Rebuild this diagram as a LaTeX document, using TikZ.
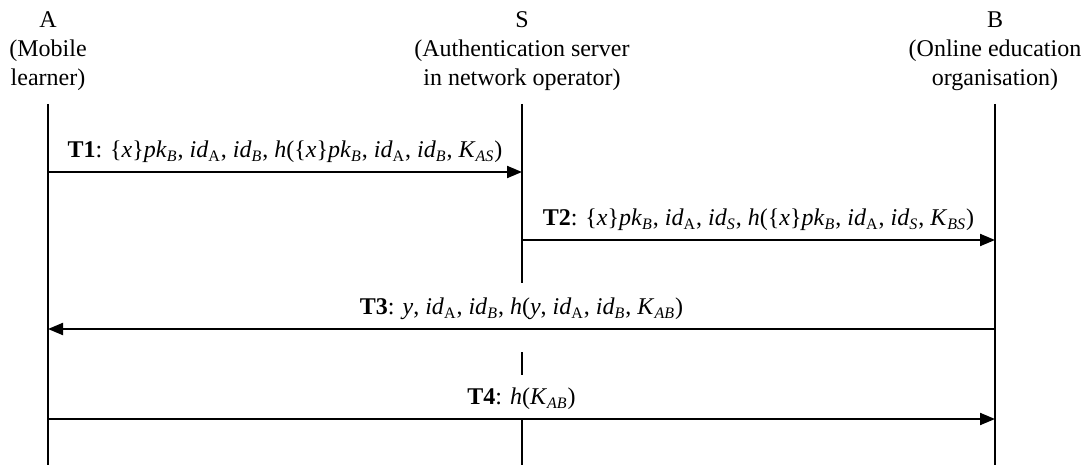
\documentclass[tikz,border=0pt]{standalone}
\usepackage{fontspec}
\setmainfont{Liberation Serif}
\usetikzlibrary{arrows.meta}

% italic subscripts for the protocol terms
\newcommand{\isub}[2]{\textit{#1}\textsubscript{\textit{#2}}}
\newcommand{\rsub}[2]{\textit{#1}\textsubscript{#2}}

\begin{document}
\begin{tikzpicture}[x=0.5pt,y=-0.5pt,line width=1pt,
    font=\fontsize{12}{14.6}\selectfont,
    who/.style={align=center,inner sep=0pt},
    msg/.style={-{Triangle[length=7.5pt,width=6pt]}},
    lbl/.style={above=4pt,inner sep=0pt}]
    \useasboundingbox (0,0) rectangle (1092,465);

    % Participants
    \node[who] (A) at (48,51) {A\\(Mobile\\learner)};
    \node[who] (S) at (522,51) {S\\(Authentication server\\in network operator)};
    \node[who] (B) at (995,51) {B\\(Online education\\organisation)};

    % Lifelines
    \coordinate (Atop) at (48,104);   \coordinate (Abot) at (48,465);
    \coordinate (Btop) at (995,104);  \coordinate (Bbot) at (995,465);
    \draw (Atop) -- (Abot);
    \draw (Btop) -- (Bbot);

    % S lifeline, broken under the T3 and T4 labels
    \coordinate (S1) at (522,104); \coordinate (S2) at (522,283);
    \coordinate (S3) at (522,352); \coordinate (S4) at (522,375);
    \coordinate (S5) at (522,419); \coordinate (S6) at (522,465);
    \draw (S1) -- (S2);
    \draw (S3) -- (S4);
    \draw (S5) -- (S6);

    % T1: A to S
    \coordinate (t1a) at (48,172); \coordinate (t1s) at (522,172);
    \draw[msg] (t1a) -- node[lbl] (T1) {\textbf{T1}: \{\textit{x}\}\isub{pk}{B}, \rsub{id}{A}, \isub{id}{B}, \textit{h}(\{\textit{x}\}\isub{pk}{B}, \rsub{id}{A}, \isub{id}{B}, \isub{K}{AS})} (t1s);

    % T2: S to B
    \coordinate (t2s) at (522,240); \coordinate (t2b) at (995,240);
    \draw[msg] (t2s) -- node[lbl] (T2) {\textbf{T2}: \{\textit{x}\}\isub{pk}{B}, \rsub{id}{A}, \isub{id}{S}, \textit{h}(\{\textit{x}\}\isub{pk}{B}, \rsub{id}{A}, \isub{id}{S}, \isub{K}{BS})} (t2b);

    % T3: B back to A
    \coordinate (t3b) at (995,329); \coordinate (t3a) at (48,329);
    \draw[msg] (t3b) -- node[lbl] (T3) {\textbf{T3}: \textit{y}, \rsub{id}{A}, \isub{id}{B}, \textit{h}(\textit{y}, \rsub{id}{A}, \isub{id}{B}, \isub{K}{AB})} (t3a);

    % T4: A to B
    \coordinate (t4a) at (48,419); \coordinate (t4b) at (995,419);
    \draw[msg] (t4a) -- node[lbl] (T4) {\textbf{T4}: \textit{h}(\isub{K}{AB})} (t4b);

\end{tikzpicture}
\end{document}
